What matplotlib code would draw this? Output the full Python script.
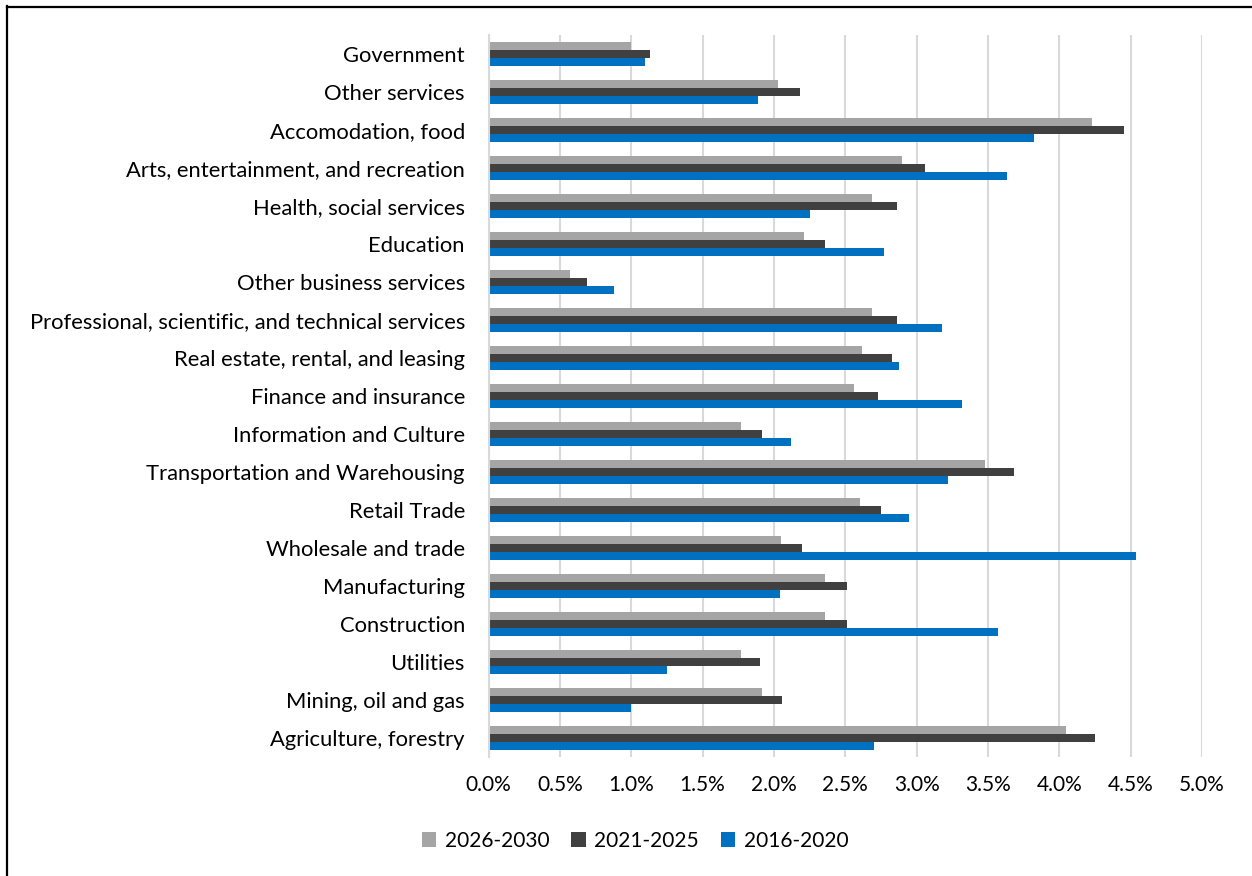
import matplotlib
matplotlib.use("Agg")
import matplotlib.pyplot as plt
from matplotlib.lines import Line2D
from matplotlib.ticker import FuncFormatter, MultipleLocator
import numpy as np

plt.rcParams['font.family'] = ['Lato', 'DejaVu Sans']

categories = [
    "Government", "Other services", "Accomodation, food",
    "Arts, entertainment, and recreation", "Health, social services", "Education",
    "Other business services", "Professional, scientific, and technical services",
    "Real estate, rental, and leasing", "Finance and insurance",
    "Information and Culture", "Transportation and Warehousing", "Retail Trade",
    "Wholesale and trade", "Manufacturing", "Construction", "Utilities",
    "Mining, oil and gas", "Agriculture, forestry",
]
s2026_2030 = [1.00, 2.03, 4.23, 2.90, 2.69, 2.21, 0.57, 2.69, 2.62, 2.56,
              1.77, 3.48, 2.60, 2.05, 2.36, 2.36, 1.77, 1.92, 4.05]
s2021_2025 = [1.13, 2.18, 4.45, 3.06, 2.86, 2.36, 0.69, 2.86, 2.83, 2.73,
              1.92, 3.68, 2.75, 2.20, 2.51, 2.51, 1.90, 2.06, 4.25]
s2016_2020 = [1.10, 1.89, 3.82, 3.63, 2.25, 2.77, 0.88, 3.18, 2.88, 3.32,
              2.12, 3.22, 2.95, 4.54, 2.04, 3.57, 1.25, 1.00, 2.70]
series_names = ["2026-2030", "2021-2025", "2016-2020"]
colors = ["#a5a5a5", "#404040", "#0070c0"]

fig = plt.figure(figsize=(12.52, 8.76), dpi=100)
ax = fig.add_axes([488.5 / 1252, 1 - 757 / 876, (1202 - 488.5) / 1252, (757 - 35) / 876])

y = np.arange(len(categories))
h = 0.21
for k, (vals, col) in enumerate(zip([s2026_2030, s2021_2025, s2016_2020], colors)):
    ax.barh(y + (k - 1) * h, vals, height=h, color=col, label=series_names[k], zorder=3)

ax.set_ylim(len(categories) - 0.5, -0.5)
ax.set_xlim(0, 5)
ax.xaxis.set_major_locator(MultipleLocator(0.5))
ax.xaxis.set_major_formatter(FuncFormatter(lambda v, p: f"{v:.1f}%"))
ax.set_yticks(y)
ax.set_yticklabels(categories)
ax.tick_params(axis='both', length=0, colors='black')
ax.tick_params(axis='y', pad=17, labelsize=15.8)
ax.tick_params(axis='x', pad=13, labelsize=15)
ax.grid(axis='x', color='#d9d9d9', linewidth=1.5, zorder=0)
for s in ['top', 'right', 'bottom']:
    ax.spines[s].set_visible(False)
ax.spines['left'].set_color('#d9d9d9')
ax.spines['left'].set_linewidth(1.5)
ax.spines['left'].set_zorder(4)

handles, labels = ax.get_legend_handles_labels()
fig.legend(handles, labels, loc='center', bbox_to_anchor=(635 / 1252, 1 - 841 / 876),
           ncol=3, frameon=False, fontsize=15, handlelength=0.7, handleheight=0.7,
           handletextpad=0.4, columnspacing=1.05)

fig.add_artist(Line2D([6.5 / 1252, 6.5 / 1252], [0, 1 - 6 / 876], color='black', lw=1.6,
                      transform=fig.transFigure))
fig.add_artist(Line2D([6.5 / 1252, 1], [1 - 6.5 / 876, 1 - 6.5 / 876], color='black', lw=1.6,
                      transform=fig.transFigure))

fig.savefig("out.png", dpi=100, facecolor='white')
